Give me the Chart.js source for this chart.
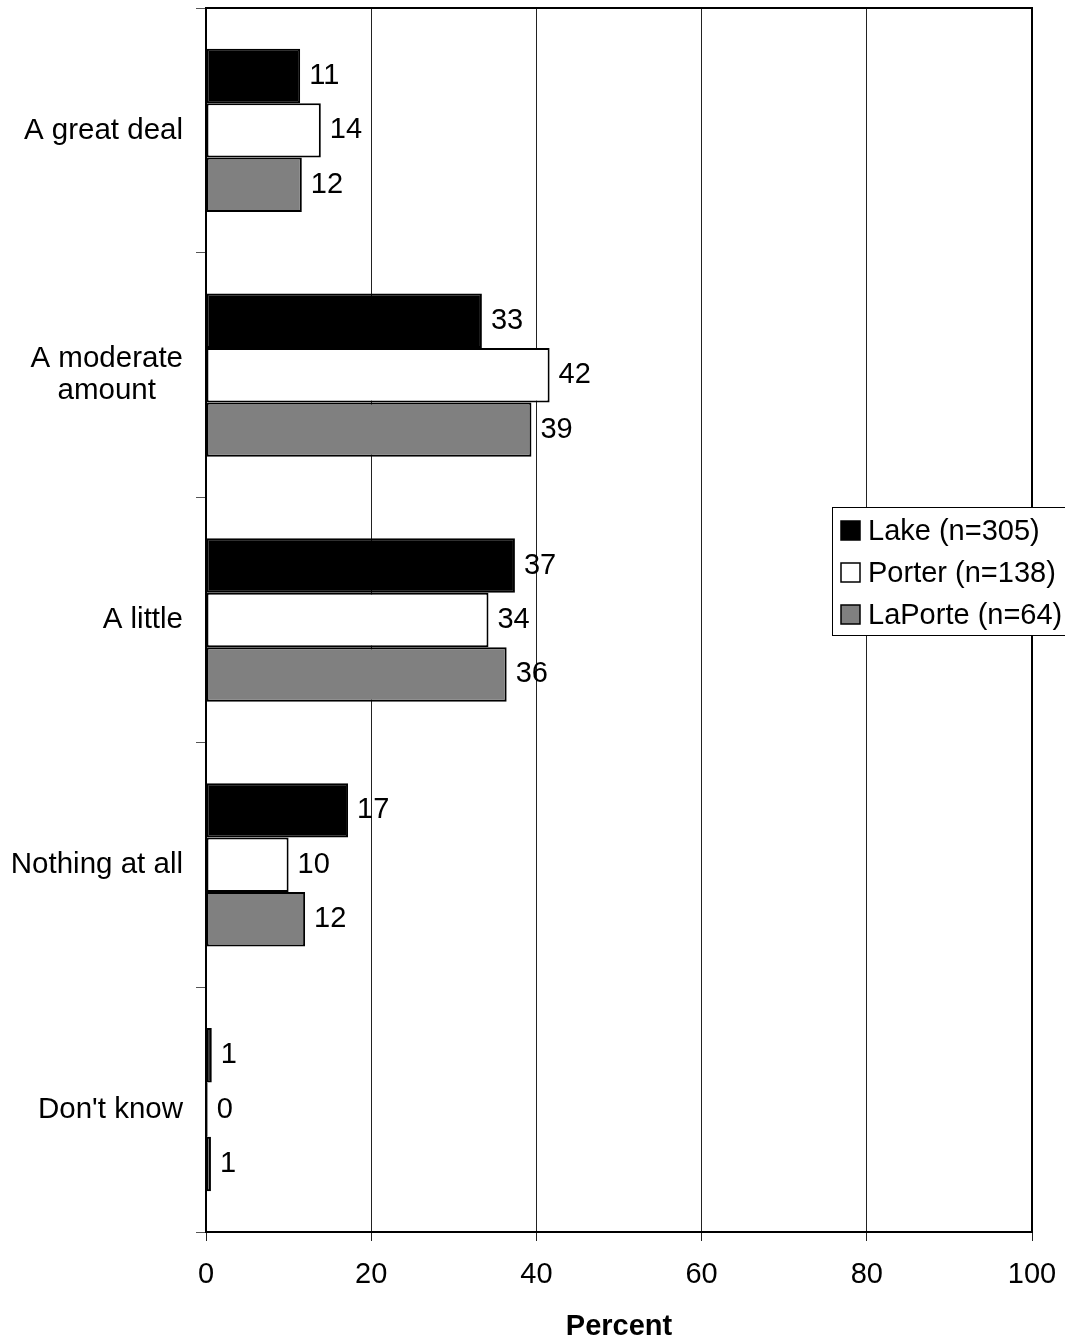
<!DOCTYPE html>
<html>
<head>
<meta charset="utf-8">
<script src="https://cdn.jsdelivr.net/npm/chart.js@4.4.1/dist/chart.umd.min.js"></script>
<style>
  html, body { margin: 0; padding: 0; background: #fff; }
  canvas { display: block; }
</style>
</head>
<body>
<canvas id="grafico" width="1065" height="1341"></canvas>
<script>
const categorias = ['A great deal', ['A moderate', 'amount'], 'A little', 'Nothing at all', "Don't know"];
const lake = [11.4, 33.4, 37.4, 17.2, 0.7];
const porter = [13.9, 41.6, 34.2, 10.0, 0.2];
const laporte = [11.6, 39.4, 36.4, 12.0, 0.6];
const nomesSeries = ['Lake (n=305)', 'Porter (n=138)', 'LaPorte (n=64)'];
const coresSeries = ['#000000', '#ffffff', '#808080'];
const ticksX = [0, 20, 40, 60, 80, 100];

const fonte = "'Liberation Sans', Arial, sans-serif";

// rotulos das categorias (linhas centradas entre si, alinhadas a direita)
const rotulosCategorias = {
    id: 'rotulosCategorias',
    afterDraw(chart) {
        const ctx = chart.ctx;
        const y = chart.scales.y;
        ctx.save();
        ctx.font = '29.5px ' + fonte;
        ctx.fillStyle = '#000';
        ctx.textBaseline = 'middle';
        categorias.forEach((cat, i) => {
            const linhas = Array.isArray(cat) ? cat : [cat];
            const larg = Math.max(...linhas.map(l => ctx.measureText(l).width));
            const cx = 183 - larg / 2;
            const cy = y.getPixelForValue(i);
            ctx.textAlign = 'center';
            linhas.forEach((l, j) => {
                ctx.fillText(l, cx, cy + (j - (linhas.length - 1) / 2) * 32);
            });
        });
        ctx.restore();
    }
};

// valores ao lado das barras
const rotulosValores = {
    id: 'rotulosValores',
    afterDatasetsDraw(chart) {
        const ctx = chart.ctx;
        ctx.save();
        ctx.font = '29px ' + fonte;
        ctx.fillStyle = '#000';
        ctx.textAlign = 'left';
        ctx.textBaseline = 'middle';
        chart.data.datasets.forEach((ds, d) => {
            chart.getDatasetMeta(d).data.forEach((barra, i) => {
                ctx.fillText(String(Math.round(ds.data[i])), barra.x + 9, barra.y);
            });
        });
        ctx.restore();
    }
};

// moldura e legenda
const moldura = {
    id: 'moldura',
    afterDraw(chart) {
        const ctx = chart.ctx;
        const a = chart.chartArea;
        ctx.save();
        ctx.strokeStyle = '#000';
        ctx.lineWidth = 2;
        ctx.strokeRect(a.left, a.top, a.right - a.left, a.bottom - a.top);

        const lx = 832.5, ly = 507.5;
        ctx.fillStyle = '#fff';
        ctx.fillRect(lx, ly, 240, 128);
        ctx.lineWidth = 1;
        ctx.strokeRect(lx, ly, 240, 128);
        ctx.font = '29px ' + fonte;
        ctx.textAlign = 'left';
        ctx.textBaseline = 'middle';
        nomesSeries.forEach((nome, i) => {
            const cy = 531 + i * 42;
            ctx.fillStyle = coresSeries[i];
            ctx.fillRect(841, cy - 10, 19, 19);
            ctx.lineWidth = 1.5;
            ctx.strokeStyle = '#000';
            ctx.strokeRect(841, cy - 10, 19, 19);
            ctx.fillStyle = '#000';
            ctx.fillText(nome, 868, cy + 1);
        });
        ctx.restore();
    }
};

const ctx = document.getElementById('grafico').getContext('2d');
const chart = new Chart(ctx, {
    type: 'bar',
    data: {
        labels: categorias,
        datasets: [lake, porter, laporte].map((valores, i) => ({
            label: nomesSeries[i],
            data: valores,
            backgroundColor: coresSeries[i],
            borderColor: '#000',
            borderWidth: 2,
            borderSkipped: false,
            categoryPercentage: 0.667,
            barPercentage: 1.0
        }))
    },
    options: {
        indexAxis: 'y',
        responsive: false,
        animation: false,
        devicePixelRatio: 1,
        layout: { padding: { top: 8, right: 33, left: 0, bottom: 0 } },
        plugins: {
            legend: { display: false },
            tooltip: { enabled: false }
        },
        scales: {
            x: {
                min: 0,
                max: 100,
                afterBuildTicks: (escala) => {
                    escala.ticks = ticksX.map(v => ({ value: v }));
                },
                afterFit: (escala) => {
                    escala.height = 109;
                    escala.paddingLeft = 0;
                    escala.paddingRight = 0;
                },
                grid: { color: '#222', lineWidth: 1, tickLength: 9 },
                border: { display: false },
                ticks: {
                    color: '#000',
                    padding: 17,
                    font: { size: 29, family: fonte }
                },
                title: {
                    display: true,
                    text: 'Percent',
                    color: '#000',
                    padding: { top: 0, bottom: 0 },
                    font: { size: 29, weight: 'bold', family: fonte, lineHeight: 1.0 }
                }
            },
            y: {
                afterFit: (escala) => { escala.width = 206; },
                grid: { drawOnChartArea: false, offset: true, tickLength: 10, color: '#555' },
                border: { display: false },
                ticks: { display: false }
            }
        }
    },
    plugins: [rotulosValores, rotulosCategorias, moldura]
});
</script>
</body>
</html>
